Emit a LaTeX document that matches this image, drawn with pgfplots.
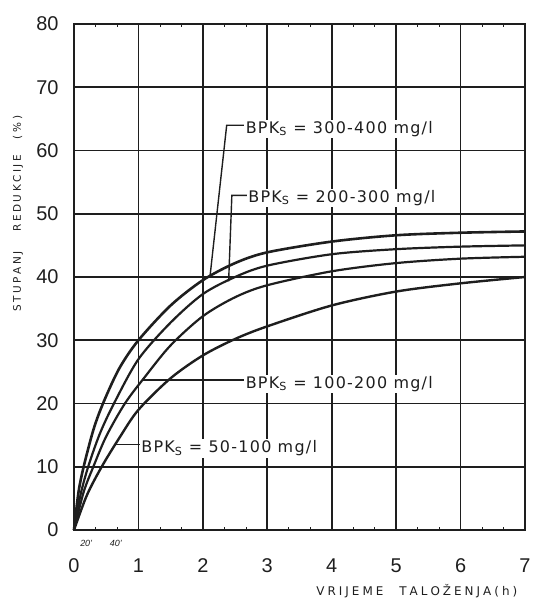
\documentclass[border=0pt]{standalone}
\usepackage{fontspec}
\setmainfont{Liberation Sans}
\newfontfamily\labfont[LetterSpace=8]{DejaVu Sans}
\newfontfamily\axfont{DejaVu Sans}
\usepackage{pgfplots}
\pgfplotsset{compat=1.18}
\definecolor{ink}{HTML}{1E1E1E}
\def\K{\kern3bp}
\def\k{\kern2.5bp}

\begin{document}
\begin{tikzpicture}
\useasboundingbox (-74bp,-71bp) rectangle (464bp,530bp);
\begin{axis}[
  at={(0,0)}, anchor=south west,
  scale only axis, width=451bp, height=506bp,
  xmin=0, xmax=7, ymin=0, ymax=80,
  xtick={0,...,7}, ytick={0,10,...,80},
  minor x tick num=2,
  grid=major, major grid style={ink, line width=1.6bp},
  axis line style={ink, line width=1.8bp},
  major tick length=0pt,
  minor tick length=3bp,
  minor tick style={ink, line width=0.6bp},
  tick align=inside,
  /pgf/number format/assume math mode=true,
  ticklabel style={font=\fontsize{20}{20}\selectfont, text=ink},
  xticklabel style={yshift=-25bp},
  yticklabel style={xshift=-12bp},
  clip=false,
]
% 300-400
\addplot[ink, line width=2.6bp, smooth] coordinates {
 (0,0) (0.07,6) (0.15,10) (0.3,15.8) (0.45,20) (0.7,25.5) (1,30) (1.5,35.5)
 (2,39.5) (2.5,42.2) (3,43.9) (4,45.6) (5,46.6) (6,47) (7,47.2)};
% 200-300
\addplot[ink, line width=2.2bp, smooth] coordinates {
 (0,0) (0.1,5.5) (0.22,10) (0.4,15.2) (0.62,20) (1,27) (1.5,32.8)
 (2,37.3) (2.5,40) (3,41.8) (4,43.6) (5,44.4) (6,44.8) (7,45)};
% 100-200
\addplot[ink, line width=2.2bp, smooth] coordinates {
 (0,0) (0.15,6) (0.3,10) (0.5,14.8) (0.79,20) (1.1,24.2) (1.5,29.2)
 (2,33.8) (2.5,36.8) (3,38.7) (4,40.9) (5,42.2) (6,42.9) (7,43.2)};
% 50-100
\addplot[ink, line width=2.4bp, smooth] coordinates {
 (0,0) (0.2,5.5) (0.43,10) (0.7,14.5) (1,19) (1.5,24) (2,27.6)
 (2.5,30.2) (3,32.2) (4,35.5) (5,37.7) (6,39) (7,40)};
% leaders
\addplot[ink, line width=1.4bp] coordinates {(2.11,40.0) (2.37,64.0) (2.66,64.0)};
\addplot[ink, line width=1.4bp] coordinates {(2.40,39.3) (2.45,52.9) (2.70,52.9)};
\addplot[ink, line width=1.4bp] coordinates {(1.06,23.7) (2.66,23.7)};
\addplot[ink, line width=1.4bp] coordinates {(0.64,13.5) (1.04,13.5)};
% labels
\tikzset{lab/.style={anchor=west, inner sep=1.5bp, fill=white, text=ink, font=\labfont\fontsize{16}{16}\selectfont}}
\node[lab] at (axis cs:2.64,63.4) {BPK\textsubscript{S} = 300-400 mg/l};
\node[lab] at (axis cs:2.68,52.5) {BPK\textsubscript{S} = 200-300 mg/l};
\node[lab] at (axis cs:2.64,23.1) {BPK\textsubscript{S} = 100-200 mg/l};
\node[lab] at (axis cs:1.02,12.9) {BPK\textsubscript{S} = 50-100 mg/l};
% axis titles
\node[rotate=90, text=ink, font=\axfont\fontsize{10.5}{10.5}\selectfont] at (axis cs:-0.87,50)
  {S\k T\k U\k P\k A\k N\k J\hspace{20bp}R\k E\k D\k U\k K\k C\k I\k J\k E\hspace{16bp}(\k\%\k)};
\node[anchor=west, inner sep=0, text=ink, font=\axfont\fontsize{12}{12}\selectfont] at (axis cs:3.76,-9.6)
  {V\K R\K I\K J\K E\K M\K E\hspace{16bp}T\K A\K L\K O\K Ž\K E\K N\K J\K A\K(\K h\K)};
\node[text=ink, font=\itshape\fontsize{9}{9}\selectfont] at (axis cs:0.19,-2.1) {20'};
\node[text=ink, font=\itshape\fontsize{9}{9}\selectfont] at (axis cs:0.65,-2.1) {40'};
\end{axis}
\end{tikzpicture}
\end{document}
